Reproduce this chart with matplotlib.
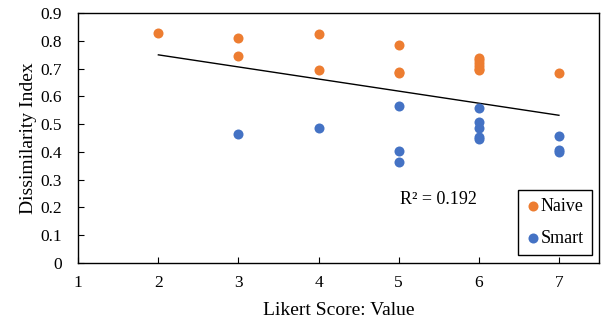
import numpy as np
import matplotlib.pyplot as plt

# --- данные ---
naive_x = [2, 3, 3, 4, 4, 5, 5, 5, 6, 6, 6, 6, 6, 6, 7]
naive_y = [0.83, 0.81, 0.745, 0.825, 0.695, 0.785, 0.69, 0.685,
           0.74, 0.73, 0.72, 0.71, 0.70, 0.695, 0.683]
smart_x = [3, 4, 5, 5, 5, 6, 6, 6, 6, 6, 7, 7, 7]
smart_y = [0.463, 0.485, 0.567, 0.402, 0.362,
           0.559, 0.507, 0.487, 0.454, 0.445,
           0.459, 0.406, 0.40]
r2_label = "R² = 0.192"

plt.rcParams['font.family'] = ['Liberation Serif', 'DejaVu Serif']
plt.rcParams['font.size'] = 12

fig = plt.figure(figsize=(6.02, 3.26), dpi=100)
ax = fig.add_axes([0.130, 0.194, 0.865, 0.765])

# линейный тренд по всем точкам
all_x = np.array(naive_x + smart_x, dtype=float)
all_y = np.array(naive_y + smart_y)
k, b = np.polyfit(all_x, all_y, 1)
tx = np.array([all_x.min(), all_x.max()])
ax.plot(tx, k * tx + b, color='black', lw=1, zorder=1)

ax.scatter(naive_x, naive_y, s=52, color='#ED7D31', label='Naive', zorder=3, linewidths=0)
ax.scatter(smart_x, smart_y, s=52, color='#4472C4', label='Smart', zorder=3, linewidths=0)

ax.text(5.49, 0.229, r2_label, ha='center', va='center', fontsize=13)

ax.set_xlim(1, 7.5)
ax.set_ylim(0, 0.9)
ax.set_xticks(range(1, 8))
ax.set_yticks(np.arange(0, 0.91, 0.1))
ax.set_yticklabels(['0'] + [f'{v:.1f}' for v in np.arange(0.1, 0.91, 0.1)])
ax.tick_params(direction='in', length=4, width=0.8, labelsize=12.5)
ax.tick_params(axis='x', pad=9)
ax.tick_params(axis='y', pad=12)
for s in ax.spines.values():
    s.set_linewidth(1)

ax.set_xlabel('Likert Score: Value', fontsize=14, labelpad=8)
ax.set_ylabel('Dissimilarity Index', fontsize=14, labelpad=2)

leg = ax.legend(loc='lower right', handletextpad=0.1, markerscale=1,
                fancybox=False, edgecolor='black', framealpha=1,
                borderpad=0.45, labelspacing=0.8, handlelength=0.7,
                fontsize=13, borderaxespad=0,
                bbox_to_anchor=(0.9866, 0.032))
leg.get_frame().set_linewidth(1)

fig.savefig('out.png', dpi=100)
